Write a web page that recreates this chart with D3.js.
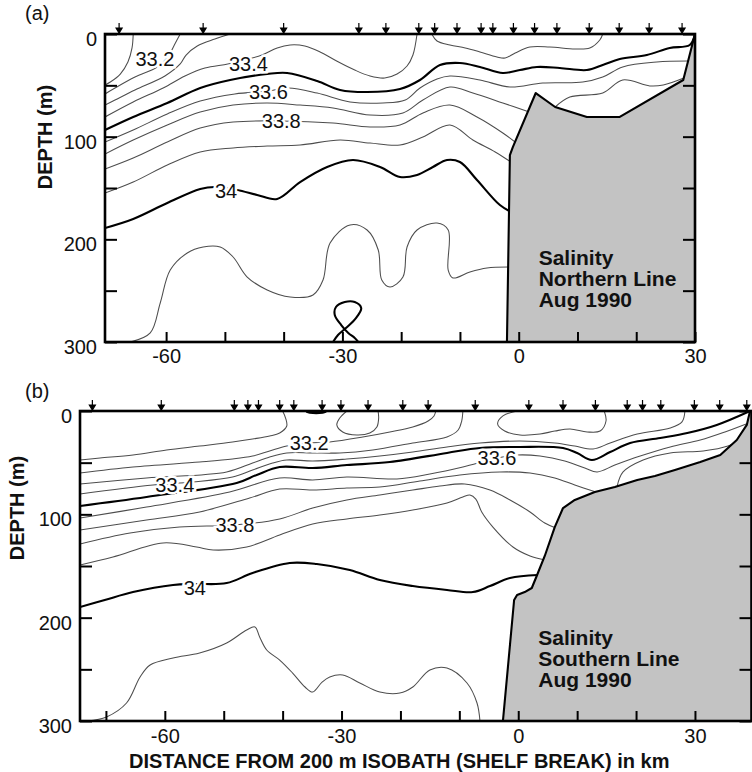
<!DOCTYPE html>
<html><head><meta charset="utf-8">
<script src="https://cdn.jsdelivr.net/npm/d3@7/dist/d3.min.js"></script>
<style>
html,body{margin:0;padding:0;background:#fff;}
svg{display:block;}
text{font-family:"Liberation Sans",Arial,Helvetica,sans-serif;}
</style></head><body>
<svg id="chart" width="752" height="772"></svg>
<script>
// ---------------- DATA (distance km, depth m) ----------------
const depthTicks = [0, 50, 100, 150, 200, 250, 300];
const depthLabels = [0, 100, 200, 300];
const xTicksA = [-60, -50, -40, -30, -20, -10, 0, 10, 20, 30];
const xTicksB = [-70, -60, -50, -40, -30, -20, -10, 0, 10, 20, 30];
const xLabels = [-60, -30, 0, 30];

const stationsA = [-68.0,-53.7,-40.0,-27.2,-22.6,-17.0,-14.3,-10.5,-6.4,-4.4,-0.9,2.7,6.5,12.0,17.1,22.2,27.8];
const stationsB = [-72.3,-60.6,-48.2,-45.9,-44.1,-40.5,-38.1,-33.3,-30.1,-25.5,-19.6,-15.3,-7.3,1.8,7.6,13.1,18.5,21.1,24.2,29.9,34.2,38.8];

// Panel (a) Northern line contours
const a331 = [[-65.6,0],[-65.8,13.6],[-66.5,27.3],[-67.8,39],[-69.5,46.8],[-70.4,49.7]];
const a332 = [[-57.6,0],[-58.6,10.7],[-59.7,22.4],[-61.5,32.1],[-65.3,41.9],[-68.7,52.6],[-70.4,58.4]];
const a333 = [[-49.1,0],[-51.7,4.9],[-54.7,11.7],[-56.6,20.5],[-57.6,29.2],[-60.2,40.9],[-65.3,54.5],[-68.7,64.3],[-70.4,69.2]];
const a334a = [[-70.4,80.8],[-65.6,66.2],[-60.5,52.6],[-56.8,40.9],[-53.4,33.1],[-49.5,29.2],[-46.6,25.3],[-43.7,20.5],[-41.1,13.6],[-38.9,10.7],[-36.4,11.7],[-33.8,17.5],[-31.3,25.3],[-27.9,35.1],[-25.3,40.9],[-22.8,42.9],[-20.7,39.0],[-19.0,31.2],[-18.0,20.5],[-17.3,0]];
const a334b = [[-14.8,0],[-13.9,6.8],[-11.7,10.7],[-9.1,13.6],[-6.6,17.5],[-3.7,22.4],[-2.3,23.4],[-0.6,18.5],[1.9,12.7],[5.3,12.7],[9.6,14.6],[12.1,13.6],[13.8,5.8],[14.3,0]];
const a335 = [[-70.4,93.5],[-65.6,80.8],[-59.8,67.2],[-54.2,52.6],[-49.1,44.8],[-42.8,39.0],[-39.4,38.0],[-34.3,45.8],[-30.4,54.5],[-25.8,56.5],[-20.2,53.6],[-16.8,44.8],[-13.4,30.2],[-10.0,28.2],[-6.6,32.1],[-2.7,38.0],[0.2,35.1],[3.1,32.1],[7.0,33.1],[11.6,35.1],[14.3,30.2],[17.2,24.4],[21.8,20.5],[25.7,13.6],[29.1,10.7],[30,0]];
const a336 = [[-70.4,105.2],[-65.6,93.5],[-59.8,77.9],[-54.2,65.3],[-48.3,58.4],[-42.6,55.5],[-39.2,52.6],[-34.3,57.5],[-28.7,66.2],[-23.1,67.2],[-19.3,64.3],[-16.8,52.6],[-13.9,43.8],[-11.7,40.9],[-6.6,44.8],[-1.5,51.6],[4.1,47.7],[10.9,46.8],[14.3,41.9],[17.7,32.1],[23.5,27.3],[28.8,26.3]];
const a337 = [[-70.4,116.9],[-65.6,103.3],[-59.8,88.6],[-54.2,76.0],[-48.6,69.2],[-42.8,67.2],[-37.2,69.2],[-31.6,72.1],[-25.3,78.9],[-19.7,76.9],[-16.3,64.3],[-11.7,51.6],[-7.8,57.5],[-2.7,67.2],[1.8,76.0]];
const a337b = [[6.2,71.1],[8.7,61.4],[14.3,57.5],[17.7,44.8],[22.3,50.6],[24.6,49.7],[28.1,42.9]];
const a338 = [[-70.4,131.5],[-65.6,120.8],[-59.8,105.2],[-54.2,91.6],[-48.6,85.7],[-40.4,84.7],[-31.6,86.7],[-25.3,90.6],[-20.2,88.6],[-16.3,76.9],[-11.7,69.2],[-7.1,80.8],[-2.7,96.4],[-0.4,106.2]];
const a339 = [[-70.4,154.9],[-65.6,144.2],[-59.8,127.6],[-54.2,114.9],[-48.6,111.0],[-42.8,109.1],[-37.2,108.1],[-30.4,103.2],[-25.3,106.2],[-20.2,108.1],[-16.3,100.3],[-11.7,88.6],[-7.8,103.2],[-4.0,114.9],[-1.0,126]];
const a340 = [[-70.4,189.0],[-65.6,180.2],[-59.8,164.6],[-54.2,151.0],[-51.7,149.0],[-47.9,151.9],[-44.5,156.8],[-41.1,160.7],[-37.2,144.2],[-32.6,129.5],[-28.2,122.7],[-23.6,129.5],[-20.2,139.3],[-17.3,137.3],[-14.6,129.5],[-12.2,122.7],[-10.0,124.7],[-7.1,142.2],[-3.2,166.6],[-1.0,174.3]];
const a341 = [[-66.1,300],[-62.7,291.2],[-61.0,262.0],[-59.3,229.9],[-56.4,213.3],[-53.7,207.5],[-50.8,207.5],[-48.6,217.2],[-46.2,236.7],[-42.8,249.3],[-38.9,256.2],[-35.0,254.2],[-33.3,239.6],[-32.1,203.6],[-28.7,186.0],[-25.8,190.9],[-23.9,210.4],[-23.3,239.6],[-21.9,246.4],[-19.7,236.7],[-19.0,207.5],[-17.3,190.9],[-13.9,184.1],[-12.0,190.9],[-12.0,229.9],[-11.2,237.6],[-8.3,231.8],[-5.4,227.9],[-1.8,226.9]];
const a342 = [[-31.6,300],[-30.75,293.2],[-29.4,286.4],[-27.7,276.7],[-26.8,267.0],[-27.9,261.1],[-29.6,261.1],[-31.1,265.9],[-31.3,273.7],[-30.2,283.5],[-29.0,291.2],[-27.9,296.1],[-27.3,300]];
const bathyA = [[-2.0,300],[-1.5,117.9],[-1.0,110.1],[2.9,57.5],[6.2,71.1],[11.6,80.8],[17.2,80.8],[28.0,44.8],[30,0]];
const labelTextA = ["33.2","33.4","33.6","33.8","34"];
const labelPosA = [[-61.9,24.4],[-46.0,29.2],[-42.6,56.5],[-40.4,84.7],[-49.8,152.9]];
const titleA = ["Salinity","Northern Line","Aug 1990"];

// Panel (b) Southern line contours
const b331 = [[-74.4,47.4],[-71.0,45.5],[-65.4,42.6],[-59.7,37.7],[-54.1,33.9],[-48.5,30.0],[-45.1,27.1],[-42.2,24.2],[-40.5,21.3],[-39.3,14.5],[-39.5,6.8],[-40.0,0]];
const b332 = [[-74.4,60.0],[-65.4,54.2],[-54.1,49.4],[-48.5,46.5],[-45.1,43.6],[-42.2,38.7],[-39.3,33.9],[-35.6,31.0],[-32.0,30.0],[-26.4,25.2],[-21.8,20.3],[-17.9,15.5],[-15.3,9.7],[-14.3,4.8],[-14.0,0]];
const b333 = [[-74.4,70.6],[-63.1,64.8],[-49.5,59.0],[-45.1,50.3],[-42.2,44.5],[-39.3,40.6],[-34.9,40.6],[-30.3,40.6],[-24.7,37.7],[-17.9,31.0],[-12.1,25.2],[-10.2,18.4],[-9.6,9.7],[-9.4,0]];
const b334 = [[-74.4,80.3],[-62.0,71.6],[-55.3,68.7],[-48.5,63.9],[-45.1,57.1],[-41.7,50.3],[-39.3,47.4],[-34.9,48.4],[-29.1,46.5],[-23.5,43.6],[-17.9,39.7],[-12.1,34.8],[-6.5,31.0],[0.3,29.0],[6.2,31.0],[9.6,33.9],[12.7,36.8],[15.6,31.0],[20.2,22.3],[25.8,16.5],[27.8,10.6],[28.3,0]];
const b335 = [[-74.4,91.9],[-63.1,83.2],[-47.8,69.7],[-44.4,61.9],[-40.5,54.2],[-34.9,55.2],[-29.1,52.3],[-21.8,49.4],[-12.1,40.6],[-6.5,35.8],[0.3,34.8],[7.6,35.8],[10.0,40.6],[12.5,47.4],[15.6,39.7],[19.0,31.0],[24.1,26.1],[28.7,21.3],[33.7,13.5],[39.35,0]];
const b336 = [[-74.4,103.6],[-63.1,92.9],[-49.0,78.4],[-40.5,64.8],[-34.9,66.8],[-29.1,63.9],[-20.6,65.8],[-15.0,61.0],[-9.4,54.2],[-3.6,45.5],[-0.2,42.6],[3.7,43.6],[7.9,48.4],[11.3,55.2],[13.4,59.0],[16.4,52.3],[20.7,43.6],[25.8,34.8],[30.9,28.1],[35.1,20.3],[38.7,12.6]];
const b337 = [[-74.4,115.2],[-63.1,105.5],[-54.1,97.7],[-45.6,84.2],[-40.5,75.5],[-34.9,76.5],[-29.1,74.5],[-23.5,73.6],[-16.7,67.7],[-9.9,61.9],[-3.1,59.0],[2.0,60.0],[6.2,64.8],[9.6,71.6],[13.2,78.4]];
const b337b = [[16.8,72.6],[17.8,59.0],[21.2,47.4],[25.8,40.6],[31.4,38.7],[35.6,33.9],[37.3,29.0]];
const b338 = [[-74.4,128.7],[-65.9,118.1],[-57.5,112.3],[-48.1,110.3],[-40.5,104.5],[-34.9,93.9],[-29.1,86.1],[-23.5,81.3],[-17.9,76.5],[-13.3,72.6],[-9.1,70.6],[-4.8,76.5],[-1.4,86.1],[2.0,97.7],[4.5,108.4],[6.4,113.2]];
const b339 = [[-74.4,149.0],[-68.8,141.3],[-60.3,127.7],[-54.6,131.6],[-51.8,134.5],[-46.1,131.6],[-40.5,120.0],[-34.9,109.4],[-29.1,104.5],[-23.5,100.7],[-17.9,95.8],[-12.1,89.0],[-9.4,83.2],[-8.2,81.3],[-7.2,85.2],[-6.2,97.7],[-4.3,112.3],[-0.9,131.6],[2.0,140.3],[4.6,144.2]];
const b340 = [[-74.4,189.7],[-70.2,182.9],[-65.4,175.2],[-58.6,168.4],[-54.9,167.4],[-49.5,166.5],[-45.1,156.8],[-38.8,147.1],[-34.2,148.1],[-28.6,153.9],[-23.5,163.6],[-17.9,169.4],[-12.1,173.2],[-7.7,175.2],[-4.8,169.4],[-1.4,161.6],[3.3,158.7]];
const b341 = [[-73.1,300],[-69.9,296.1],[-66.5,282.6],[-64.2,257.4],[-62.5,245.8],[-58.6,239.0],[-54.1,234.2],[-49.5,224.5],[-46.1,211.9],[-44.7,209.0],[-43.9,218.7],[-42.7,231.3],[-40.5,241.0],[-38.3,253.6],[-36.2,267.1],[-34.9,272.0],[-33.3,262.3],[-32.0,257.4],[-29.8,255.5],[-26.9,263.2],[-23.5,272.0],[-20.1,273.0],[-17.9,267.1],[-15.0,250.6],[-12.1,248.7],[-8.7,263.2],[-7.0,282.6],[-6.5,300]];
const bDash = [[-36,0.6],[-35.4,1.6],[-33.2,1.6],[-32.6,0.6]];
const bLoop1 = [[-29.1,0],[-30.3,6.8],[-30.8,13.5],[-29.8,20.3],[-27.4,23.2],[-25.2,21.3],[-24.0,15.5],[-23.7,6.8],[-23.8,0]];
const bLoop2 = [[-0.2,0],[-2.6,4.8],[-3.5,12.6],[-2.3,19.4],[0.3,23.2],[3.7,22.3],[6.2,19.4],[8.8,17.4],[11.7,20.3],[13.9,19.4],[14.9,9.7],[14.6,0]];
const bathyB = [[-2.6,300],[-0.7,182.9],[-0.2,178.1],[1.1,175.2],[2.3,171.3],[3.2,158.7],[4.5,140.3],[6.2,112.3],[7.6,93.9],[9.6,86.1],[13.0,78.4],[16.4,73.6],[20.2,66.8],[23.2,62.9],[26.6,57.1],[30.9,49.4],[34.3,42.6],[37.1,28.1],[38.8,13.5],[39.35,0]];
const labelTextB = ["33.2","33.4","33.6","33.8","34"];
const labelPosB = [[-35.5,31.0],[-58.3,71.6],[-3.6,45.0],[-48.1,110.3],[-54.9,171.3]];
const titleB = ["Salinity","Southern Line","Aug 1990"];

const xTitle = "DISTANCE FROM 200 m ISOBATH (SHELF BREAK) in km";
const yTitle = "DEPTH (m)";

// ---------------- DRAWING ----------------
const svg = d3.select("#chart");

function drawPanel(p) {
  const x = d3.scaleLinear().domain(p.xDomain).range([p.left, p.right]);
  const y = d3.scaleLinear().domain([0, 300]).range([p.top, p.bottom]);
  const g = svg.append("g");
  const clipId = "clip" + p.id;
  svg.append("clipPath").attr("id", clipId).append("rect")
    .attr("x", p.left).attr("y", p.top)
    .attr("width", p.right - p.left).attr("height", p.bottom - p.top);

  const smooth = d3.line().x(d => x(d[0])).y(d => y(d[1])).curve(d3.curveCatmullRom.alpha(0.5));
  const straight = d3.line().x(d => x(d[0])).y(d => y(d[1]));
  const cg = g.append("g").attr("clip-path", `url(#${clipId})`);

  cg.selectAll("path.contour").data(p.contours).join("path")
    .attr("class", "contour")
    .attr("d", c => smooth(c.pts))
    .attr("fill", "none")
    .attr("stroke", c => c.bold ? "#000" : "#4d4d4d")
    .attr("stroke-width", c => c.bold ? 2.1 : 1.05)
    .attr("stroke-linejoin", "round");

  // bathymetry
  const poly = p.bathy.concat([[p.xDomain[1], 0], [p.xDomain[1], 300]]);
  cg.append("path").attr("d", straight(poly) + "Z").attr("fill", "#c3c3c3");
  cg.append("path").attr("d", straight(p.bathy)).attr("fill", "none")
    .attr("stroke", "#000").attr("stroke-width", 2.1).attr("stroke-linejoin", "round");

  // contour labels
  g.selectAll("text.clab").data(p.labelText).join("text")
    .attr("class", "clab")
    .attr("x", (d, i) => x(p.labelPos[i][0]))
    .attr("y", (d, i) => y(p.labelPos[i][1]))
    .attr("text-anchor", "middle").attr("dy", "0.36em")
    .attr("font-size", 20)
    .attr("stroke", "#fff").attr("stroke-width", 5).attr("paint-order", "stroke")
    .attr("fill", "#111")
    .text(d => d);

  // title block on the shelf
  g.selectAll("text.ttl").data(p.title).join("text")
    .attr("class", "ttl")
    .attr("x", x(p.titleAt[0]))
    .attr("y", (d, i) => y(p.titleAt[1]) + i * 21)
    .attr("font-size", 21).attr("font-weight", "bold").attr("fill", "#111")
    .text(d => d);

  // axes
  const fmt = d => p.xLabelsShow.includes(d) ? String(d) : "";
  const xAx = g.append("g").attr("transform", `translate(0,${p.bottom})`)
    .call(d3.axisBottom(x).tickValues(p.xTicks).tickSize(-10).tickSizeOuter(0).tickPadding(p.xPad).tickFormat(fmt));
  const yAx = g.append("g").attr("transform", `translate(${p.left},0)`)
    .call(d3.axisLeft(y).tickValues(depthTicks).tickSize(-12).tickSizeOuter(0).tickPadding(8)
      .tickFormat(d => depthLabels.includes(d) ? String(d) : ""));
  const yAxR = g.append("g").attr("transform", `translate(${p.right},0)`)
    .call(d3.axisRight(y).tickValues(depthTicks).tickSize(-12).tickSizeOuter(0).tickFormat(""));
  [xAx, yAx, yAxR].forEach(a => {
    a.select(".domain").remove();
    a.selectAll(".tick line").attr("stroke", "#000").attr("stroke-width", 2);
    a.selectAll(".tick text").attr("font-size", 20).attr("fill", "#111")
      .attr("font-family", '"Liberation Sans",Arial,sans-serif');
  });
  yAx.selectAll(".tick text").attr("transform", "translate(0,5)");

  // frame
  g.append("rect").attr("x", p.left).attr("y", p.top)
    .attr("width", p.right - p.left).attr("height", p.bottom - p.top)
    .attr("fill", "none").attr("stroke", "#000").attr("stroke-width", 2.6);

  // station arrows
  g.selectAll("path.st").data(p.stations).join("path")
    .attr("class", "st")
    .attr("d", d => {
      const cx = x(d), t = p.top;
      return `M${cx},${t - 11}V${t - 5}M${cx - 3},${t - 6}L${cx + 3},${t - 6}L${cx},${t - 1}Z`;
    })
    .attr("stroke", "#000").attr("stroke-width", 1.2).attr("fill", "#000");

  // panel tag
  g.append("text").attr("x", p.tagAt[0]).attr("y", p.tagAt[1])
    .attr("font-family", '"Liberation Serif","Times New Roman",serif')
    .attr("font-size", 20).attr("fill", "#111").text(p.tag);

  // y title
  g.append("text")
    .attr("transform", `translate(${p.yTitleX},${p.yTitleY}) rotate(-90)`)
    .attr("text-anchor", "middle").attr("font-size", 20).attr("font-weight", "bold")
    .attr("fill", "#111").text(yTitle);
  return {x, y};
}

const cA = [
  {pts: a331}, {pts: a332}, {pts: a333}, {pts: a334a}, {pts: a334b},
  {pts: a335, bold: true}, {pts: a336}, {pts: a337}, {pts: a337b}, {pts: a338},
  {pts: a339}, {pts: a340, bold: true}, {pts: a341}, {pts: a342, bold: true}
];
const cB = [
  {pts: b331}, {pts: b332}, {pts: b333}, {pts: b334}, {pts: b335, bold: true},
  {pts: b336}, {pts: b337}, {pts: b337b}, {pts: b338}, {pts: b339},
  {pts: b340, bold: true}, {pts: b341}, {pts: bDash, bold: true}, {pts: bLoop1}, {pts: bLoop2}
];

drawPanel({
  id: "A", xDomain: [-70.4, 30], left: 105, right: 695, top: 34, bottom: 342,
  contours: cA, bathy: bathyA, labelText: labelTextA, labelPos: labelPosA,
  title: titleA, titleAt: [3.4, 225], xTicks: xTicksA, xLabelsShow: xLabels, xPad: 7,
  stations: stationsA, tag: "(a)", tagAt: [25, 20], yTitleX: 52, yTitleY: 137
});
const pb = drawPanel({
  id: "B", xDomain: [-74.4, 39.6], left: 80, right: 751.5, top: 411, bottom: 721,
  contours: cB, bathy: bathyB, labelText: labelTextB, labelPos: labelPosB,
  title: titleB, titleAt: [3.4, 226], xTicks: xTicksB, xLabelsShow: xLabels, xPad: 8,
  stations: stationsB, tag: "(b)", tagAt: [25, 398], yTitleX: 24, yTitleY: 508
});

svg.append("text").attr("x", pb.x(-20.2)).attr("y", 767.5)
  .attr("text-anchor", "middle").attr("font-size", 20).attr("font-weight", "bold")
  .attr("fill", "#111").text(xTitle);
</script>
</body></html>
